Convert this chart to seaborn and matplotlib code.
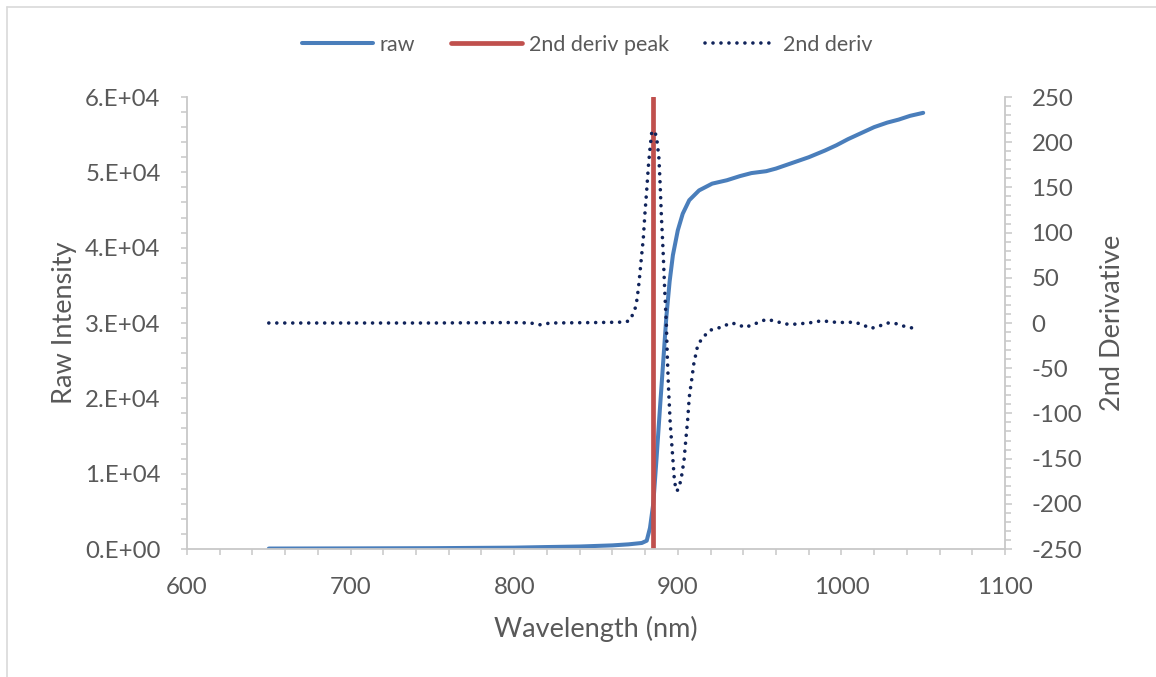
import matplotlib
matplotlib.use('Agg')
import matplotlib.pyplot as plt
import seaborn as sns
from matplotlib.ticker import MultipleLocator, FuncFormatter
from matplotlib.lines import Line2D

# ---- data ----
raw_wl = [650, 700, 750, 800, 820, 840, 860, 870, 878, 881, 883, 885, 887, 889,
          891, 893, 895, 897, 900, 903, 907, 913, 921, 930, 938, 945, 954, 960,
          968, 980, 990, 997, 1004, 1012, 1020, 1028, 1035, 1042, 1050]
raw_int = [60, 80, 110, 180, 260, 330, 480, 620, 800, 1100, 2800, 6000, 12000,
           18400, 24600, 30800, 35500, 39000, 42300, 44500, 46300, 47600, 48500,
           48950, 49500, 49900, 50150, 50500, 51100, 52000, 52900, 53600, 54400,
           55200, 56000, 56600, 57000, 57500, 57900]

deriv_wl = [650, 700, 750, 800, 810, 816, 822, 850, 868, 870.8, 872.8, 874.5,
            875.9, 876.9, 877.9, 878.9, 879.9, 881, 882, 883, 884, 885, 886, 887,
            888.4, 889, 890, 891, 892, 893, 893.6, 894.4, 895.4, 896.6, 898,
            899.4, 900.5, 902, 903.8, 905, 906, 907, 908.4, 909.8, 911.9, 914.5,
            919.7, 927.8, 931.9, 936, 941, 947, 954, 960, 965, 970, 980, 988, 995,
            1002, 1008, 1013, 1018, 1023, 1028, 1033, 1037, 1042, 1047]
deriv_val = [0, 0, 0, 0.5, 0, -2, 0, 0.5, 1, 3, 11, 19, 38, 56, 75, 93, 121, 147,
             173, 193, 210, 213, 211, 206, 184, 162, 117, 80, 36, -1, -38, -75,
             -112, -141, -176, -186, -183, -173, -152, -127, -108, -82, -64, -45,
             -27, -17.5, -8, -4, 0, -1, -5, -1, 4, 2, -1, -1.5, 0, 2.5, 1, 0.5, 1,
             -2, -6, -3.5, 0, -0.5, -3, -5, -7]

peak_wl = [885, 885]
peak_y = [0, 60000]

x_ticks = [600, 700, 800, 900, 1000, 1100]
left_ticks = [0, 10000, 20000, 30000, 40000, 50000, 60000]
right_ticks = [-250, -200, -150, -100, -50, 0, 50, 100, 150, 200, 250]

# ---- style ----
sns.set_theme(style='white')
plt.rcParams['font.family'] = ['Lato', 'DejaVu Sans']

TXT = '#595959'
AXC = '#C8C8C8'
C_RAW = '#4A7EBB'
C_PEAK = '#C0504D'
C_DER = '#10235A'

TICK_FS = 17.3
TITLE_FS = 19.5
LEG_FS = 15.5

W, H = 1156, 677
fig = plt.figure(figsize=(W / 100, H / 100), dpi=100)
fig.patch.set_facecolor('white')

L, R, T, B = 187, 1005, 97, 549
ax = fig.add_axes([L / W, 1 - B / H, (R - L) / W, (B - T) / H])
ax2 = ax.twinx()

sns.lineplot(x=raw_wl, y=raw_int, ax=ax, color=C_RAW, linewidth=2.9,
             estimator=None, sort=False, legend=False, solid_capstyle='round')
sns.lineplot(x=peak_wl, y=peak_y, ax=ax, color=C_PEAK, linewidth=3.4,
             estimator=None, sort=False, legend=False)
sns.lineplot(x=deriv_wl, y=deriv_val, ax=ax2, color=C_DER, linewidth=2.6,
             estimator=None, sort=False, legend=False,
             linestyle=(0, (0.01, 2.2)), dash_capstyle='round')

ax.set_xlim(600, 1100)
ax.set_ylim(0, 60000)
ax2.set_ylim(-250, 250)

ax.set_xticks(x_ticks)
ax.set_yticks(left_ticks)
ax2.set_yticks(right_ticks)
ax.xaxis.set_minor_locator(MultipleLocator(20))
ax.yaxis.set_minor_locator(MultipleLocator(2000))
ax2.yaxis.set_minor_locator(MultipleLocator(10))

def sci(v, pos):
    if v == 0:
        return '0.E+00'
    return f'{v / 1e4:.0f}.E+04'

ax.yaxis.set_major_formatter(FuncFormatter(sci))
ax2.yaxis.set_major_formatter(FuncFormatter(lambda v, p: f'{v:.0f}'))

for a in (ax, ax2):
    for s in a.spines.values():
        s.set_visible(False)
    a.grid(False)
    a.set_facecolor('none')

ax.spines['bottom'].set_visible(True)
ax.spines['left'].set_visible(True)
ax2.spines['right'].set_visible(True)
for s in (ax.spines['bottom'], ax.spines['left'], ax2.spines['right']):
    s.set_color(AXC)
    s.set_linewidth(1.3)

ax.tick_params(axis='x', which='major', direction='out', length=4, width=1.1,
               color=AXC, labelsize=TICK_FS, labelcolor=TXT, pad=16, bottom=True)
ax.tick_params(axis='x', which='minor', direction='out', length=4, width=1.1,
               color=AXC, bottom=True)
ax.tick_params(axis='y', which='major', direction='out', length=4, width=1.1,
               color=AXC, labelsize=TICK_FS, labelcolor=TXT, pad=15, left=True)
ax.tick_params(axis='y', which='minor', direction='out', length=4, width=1.1,
               color=AXC, left=True)
ax2.tick_params(axis='y', which='major', direction='out', length=5, width=1.1,
                color=AXC, labelsize=TICK_FS, labelcolor=TXT, pad=14, right=True)
ax2.tick_params(axis='y', which='minor', direction='out', length=4, width=1.1,
                color=AXC, right=True)

ax.set_xlabel('Wavelength (nm)', fontsize=TITLE_FS, color=TXT, labelpad=13)
ax.set_ylabel('Raw Intensity', fontsize=TITLE_FS, color=TXT, labelpad=6)
ax2.set_ylabel('2nd Derivative', fontsize=TITLE_FS, color=TXT, labelpad=13)

handles = [ax.lines[0], ax.lines[1], ax2.lines[0]]
labels = ['raw', '2nd deriv peak', '2nd deriv']
leg = fig.legend(handles, labels, loc='center', bbox_to_anchor=(587 / W, 1 - 45 / H),
                 ncol=3, frameon=False, fontsize=LEG_FS, handlelength=3.3,
                 handletextpad=0.3, columnspacing=1.7)
for t in leg.get_texts():
    t.set_color(TXT)

# chart frame (left and top edges visible)
fig.add_artist(Line2D([7 / W, 7 / W], [0, 1 - 7 / H], transform=fig.transFigure,
                      color='#D9D9D9', linewidth=1.2))
fig.add_artist(Line2D([7 / W, 1], [1 - 7 / H, 1 - 7 / H], transform=fig.transFigure,
                      color='#D9D9D9', linewidth=1.2))

fig.savefig('out.png', dpi=100, facecolor='white')
